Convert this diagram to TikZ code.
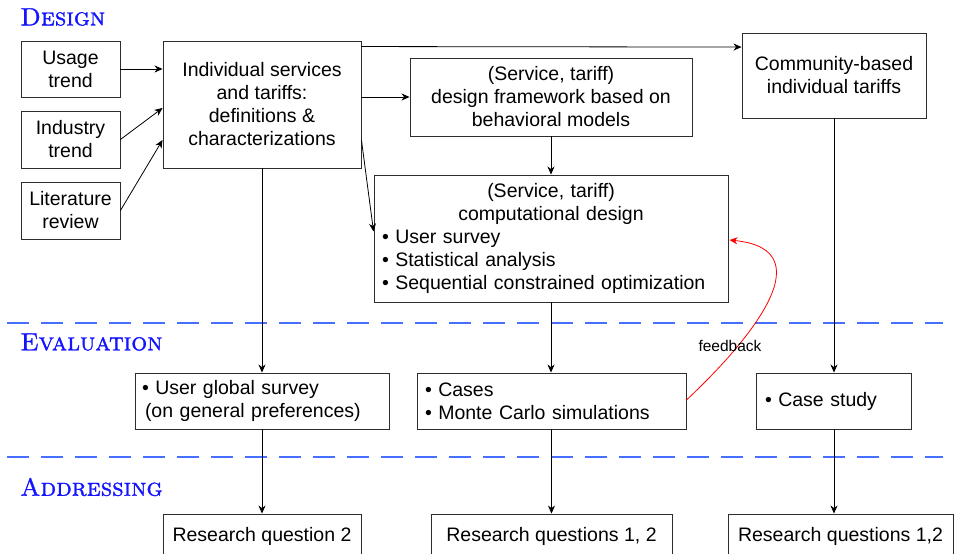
\documentclass[tikz,border=0pt]{standalone}
\usepackage{fontspec}
\newfontfamily\arialfam{Liberation Sans}
\newfontfamily\headsc{lmromancaps10-regular.otf}[FakeBold=1.2]
\usetikzlibrary{arrows.meta,calc}
\definecolor{dashblue}{RGB}{70,110,255}
\definecolor{headblue}{RGB}{20,20,255}
\definecolor{boxgray}{RGB}{45,45,45}
\newcommand\myBody{\arialfam\fontsize{19.5}{23}\selectfont}
\begin{document}
\begin{tikzpicture}[x=1pt,y=-1pt,
  box/.style={draw=boxgray, line width=0.9pt, inner sep=0pt, font=\myBody, align=center, fill=white},
  lbox/.style={draw=boxgray, line width=0.9pt, inner ysep=0pt, inner xsep=8pt, font=\myBody, align=left, fill=white},
  arr/.style={draw=black, line width=0.8pt, -{Stealth[length=8pt,width=7pt,inset=2.5pt]}},
  dashline/.style={draw=dashblue, line width=1.1pt, dash pattern=on 22pt off 12pt},
  head/.style={text=headblue, font=\headsc\fontsize{25}{27}\selectfont, inner sep=0pt, anchor=west}
]
\clip (0,0) rectangle (954,554);
\fill[white] (0,0) rectangle (954,554);

% headings
\node[head] (hdesign) at (20,17) {Design};
\node[head] (heval) at (20,342) {Evaluation};
\node[head] (haddr) at (20,487) {Addressing};

% dashed separators
\draw[dashline] (7,323) -- (943,323);
\draw[dashline] (7,457) -- (943,457);

% design boxes
\node[box, minimum width=99, minimum height=56] (usage) at (70.5,69) {Usage\\trend};
\node[box, minimum width=99, minimum height=57] (industry) at (70.5,139.5) {Industry\\trend};
\node[box, minimum width=99, minimum height=57] (lit) at (70.5,210.5) {Literature\\review};
\node[box, minimum width=198, minimum height=127] (indiv) at (262,104.5) {Individual services\\and tariffs:\\definitions \&\\characterizations};
\node[box, minimum width=184, minimum height=85] (community) at (834,75.5) {Community-based\\individual tariffs};
\node[box, minimum width=282, minimum height=78] (framework) at (551,97) {(Service, tariff)\\design framework based on\\behavioral models};
\node[lbox, text width=338, minimum height=127] (comp) at (551,238.5) {{\centering (Service, tariff)\\computational design\par}\raggedright
\textbullet\ User survey\\
\textbullet\ Statistical analysis\\
\textbullet\ Sequential constrained optimization};

% evaluation boxes
\node[lbox, inner xsep=7pt, text width=240, minimum height=56] (uglobal) at (262,401) {\textbullet\ User global survey\\\hspace*{3pt}(on general preferences)};
\node[lbox, text width=253, minimum height=56] (cases) at (551.5,401) {\textbullet\ Cases\\\textbullet\ Monte Carlo simulations};
\node[lbox, inner xsep=9pt, text width=137, minimum height=56] (casestudy) at (833.5,401) {\textbullet\ Case study};

% addressing boxes
\node[box, minimum width=198, minimum height=44] (rq2) at (262,536) {Research question 2};
\node[box, minimum width=241, minimum height=44] (rq12a) at (551.5,536) {Research questions 1, 2};
\node[box, minimum width=225, minimum height=44] (rq12b) at (840.5,536) {Research questions 1,2};

% connectors
\draw[arr] (usage.east) -- (usage.east -| indiv.west);
\draw[arr] (industry.east) -- ($(indiv.west)+(0,3.5)$);
\draw[arr] (lit.east) -- ($(indiv.west)+(0,35.5)$);
\draw[arr] ($(indiv.north east)+(0,6)$) -- ($(community.north west)+(0,14.5)$);
\draw[arr] (indiv.east |- framework.west) -- (framework.west);
\draw[arr] ($(indiv.east)+(0,35.5)$) -- ($(comp.west)+(0,-7)$);
\draw[arr] (framework.south) -- (comp.north);
\draw[arr] (indiv.south) -- (uglobal.north);
\draw[arr] (comp.south) -- (comp.south |- cases.north);
\draw[arr] (community.south) -- (community.south |- casestudy.north);
\draw[arr] (uglobal.south) -- (rq2.north);
\draw[arr] (cases.south) -- (cases.south |- rq12a.north);
\draw[arr] (community.south |- casestudy.south) -- (community.south |- rq12b.north);

% feedback
\draw[arr, draw=red] ($(cases.east)+(0,-1)$) .. controls (740,350) and (830,250) .. ($(comp.east)+(1,1.5)$);
\node[font=\arialfam\fontsize{15.5}{17}\selectfont, inner sep=0pt] (fb) at (730,346) {feedback};
\end{tikzpicture}
\end{document}
